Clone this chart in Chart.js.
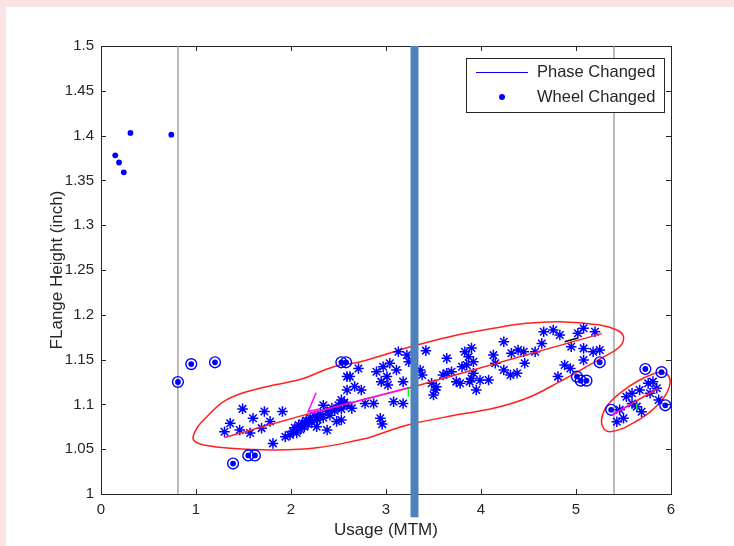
<!DOCTYPE html>
<html>
<head>
<meta charset="utf-8">
<script src="https://cdn.jsdelivr.net/npm/chart.js@4.4.1/dist/chart.umd.min.js"></script>
<style>
  html, body { margin: 0; padding: 0; background: #fbe3e3; }
  #panel { position: absolute; left: 6px; top: 7px; right: 0; bottom: 0; background: #fff; }
  #chart { position: absolute; left: 0; top: 0; }
</style>
</head>
<body>
<div id="panel"></div>
<canvas id="chart" width="734" height="546"></canvas>
<script>
// tick values and labels
const xTicks = [0, 1, 2, 3, 4, 5, 6];
const xTickLabels = ['0', '1', '2', '3', '4', '5', '6'];
const yTicks = [1, 1.05, 1.1, 1.15, 1.2, 1.25, 1.3, 1.35, 1.4, 1.45, 1.5];
const yTickLabels = ['1', '1.05', '1.1', '1.15', '1.2', '1.25', '1.3', '1.35', '1.4', '1.45', '1.5'];
const legendLabels = ['Phase Changed', 'Wheel Changed'];

// wheel changed (dots)
const wheelX = [0.15, 0.19, 0.24, 0.31, 0.74];
const wheelY = [1.378, 1.370, 1.359, 1.403, 1.401];

// circled points (outliers)
const circX = [0.81, 0.95, 1.20, 1.39, 1.55, 1.62, 2.53, 2.58, 5.01, 5.05, 5.11, 5.25, 5.73, 5.90, 5.94, 5.37];
const circY = [1.125, 1.145, 1.147, 1.034, 1.043, 1.043, 1.147, 1.147, 1.131, 1.1265, 1.1265, 1.147, 1.1395, 1.136, 1.099, 1.094];

// star points
const starX = [1.30, 1.36, 1.49, 1.60, 1.72, 1.91, 1.78, 1.46, 1.57, 1.69, 1.81, 1.94, 1.99,
  2.02, 2.04, 2.06, 2.08, 2.10, 2.12, 2.14, 2.16, 2.18, 2.20, 2.22, 2.25, 2.27, 2.28, 2.31, 2.34, 2.34,
  2.38, 2.38, 2.41, 2.43, 2.46, 2.48, 2.50, 2.53, 2.56, 2.59, 2.59, 2.59,
  2.71, 2.62, 2.67, 2.74, 2.53, 2.64, 2.78, 2.87, 2.53, 2.94, 2.96, 3.08, 3.18, 2.90, 2.97, 3.04, 3.11,
  3.01, 2.95, 3.02, 3.18, 3.13, 3.22, 3.24, 3.42, 3.36, 3.38, 3.48, 3.52, 3.50, 3.53, 3.64, 3.64, 3.60,
  3.69, 3.74, 3.78, 3.83, 3.87, 3.85, 3.80, 3.92, 3.92, 3.88, 3.95, 3.90, 3.99, 4.08, 4.13, 4.15, 4.24,
  4.24, 4.31, 4.32, 4.39, 4.38, 4.45, 4.46, 4.57, 4.66, 4.76, 4.83, 4.64, 5.08, 5.02, 5.20, 4.95, 5.08,
  5.08, 5.25, 5.18, 4.88, 4.94, 4.81, 3.90,
  5.53, 5.59, 5.67, 5.76, 5.78, 5.85, 5.87, 5.69, 5.46, 5.50, 5.43, 5.64, 5.59, 5.81];
const starY = [1.0695, 1.079, 1.095, 1.0845, 1.092, 1.092, 1.081, 1.0715, 1.068, 1.0735, 1.0565, 1.064, 1.066,
  1.070, 1.074, 1.068, 1.077, 1.072, 1.079, 1.075, 1.082, 1.078, 1.085, 1.080, 1.087, 1.075, 1.083, 1.089, 1.099, 1.085,
  1.0715, 1.092, 1.088, 1.096, 1.093, 1.081, 1.099, 1.095, 1.102, 1.099, 1.116, 1.131,
  1.140, 1.131, 1.120, 1.116, 1.105, 1.0956, 1.101, 1.101, 1.0826, 1.0845, 1.078, 1.103, 1.101, 1.1365, 1.142, 1.146, 1.1384,
  1.131, 1.1254, 1.1216, 1.1254, 1.1588, 1.155, 1.1477, 1.160, 1.1384, 1.1328, 1.1235, 1.116, 1.1105, 1.1198, 1.1514, 1.1347, 1.1328,
  1.1365, 1.1254, 1.1235, 1.1588, 1.1532, 1.144, 1.142, 1.1477, 1.1347, 1.1254, 1.116, 1.163, 1.127, 1.1272, 1.155, 1.146, 1.170,
  1.1384, 1.1328, 1.157, 1.1607, 1.1347, 1.1588, 1.146, 1.1588, 1.181, 1.183, 1.1775, 1.168, 1.185, 1.1794, 1.181, 1.1644, 1.1625,
  1.1496, 1.1607, 1.1588, 1.144, 1.140, 1.131, 1.129,
  1.1086, 1.101, 1.116, 1.1235, 1.1124, 1.118, 1.105, 1.0918, 1.094, 1.0845, 1.0807, 1.0975, 1.1124, 1.1254];

// fitted lines
const fitX = [1.30, 2.20, 3.30, 5.27];
const fitY = [1.063, 1.090, 1.120, 1.179];
const fitMagX = [2.20, 3.25];
const fitMagY = [1.090, 1.119];
const arrowX = [2.265, 2.18, 2.30];
const arrowY = [1.113, 1.092, 1.095];
const greenX = [3.235, 3.235];
const greenY = [1.1085, 1.118];
const blackX = [4.88, 5.02];
const blackY = [1.170, 1.174];
const smallFitX = [5.375, 5.867];
const smallFitY = [1.088, 1.118];
const smallMagX = [5.375, 5.60];
const smallMagY = [1.088, 1.1015];
const smallGreenX = [5.64, 5.64];
const smallGreenY = [1.0937, 1.101];

// ellipses (outline)
const mainEllX = [2.80, 3.25, 3.78, 4.13, 4.48, 4.83, 5.08, 5.29, 5.46, 5.50, 5.43, 5.25, 4.83, 4.48, 4.13, 3.67, 3.25, 2.73, 2.45, 2.10, 1.67, 1.32, 1.08, 1.02, 0.97, 0.99, 1.08, 1.36, 1.81, 2.27, 2.80];
const mainEllY = [1.0622, 1.0775, 1.089, 1.0956, 1.1068, 1.1254, 1.1403, 1.153, 1.1644, 1.1756, 1.183, 1.1886, 1.1923, 1.1905, 1.185, 1.1756, 1.164, 1.1477, 1.142, 1.128, 1.118, 1.105, 1.0826, 1.0751, 1.064, 1.0584, 1.0547, 1.051, 1.0491, 1.0515, 1.0622];
const smallEllX = [5.50, 5.74, 5.92, 5.99, 5.96, 5.87, 5.67, 5.46, 5.32, 5.27, 5.29, 5.36, 5.50];
const smallEllY = [1.0733, 1.0882, 1.1068, 1.1235, 1.1335, 1.1355, 1.1272, 1.1124, 1.0975, 1.0835, 1.0733, 1.0696, 1.0733];

// vertical markers
const phaseX = [0.81, 5.40];
const barX = 3.30;
const barY = [0.974, 1.5];

function pts(xs, ys) {
  return xs.map((x, i) => ({ x: x, y: ys[i] }));
}

function seg(data, color, width, extra) {
  return Object.assign({
    data: data, showLine: true, borderColor: color, borderWidth: width,
    pointRadius: 0, pointHoverRadius: 0, fill: false, tension: 0
  }, extra || {});
}

const FONT = '"Liberation Sans", Arial, sans-serif';
const TXT = '#262626';

// box + inward ticks like matlab
const matlabAxes = {
  id: 'matlabAxes',
  beforeDatasetsDraw(chart) {
    const { ctx, chartArea: a, scales } = chart;
    ctx.save();
    ctx.strokeStyle = TXT;
    ctx.lineWidth = 1;
    ctx.beginPath();
    for (const t of scales.x.ticks) {
      const px = Math.round(scales.x.getPixelForValue(t.value)) + 0.5;
      ctx.moveTo(px, a.bottom); ctx.lineTo(px, a.bottom - 5);
      ctx.moveTo(px, a.top); ctx.lineTo(px, a.top + 5);
    }
    for (const t of scales.y.ticks) {
      const py = Math.round(scales.y.getPixelForValue(t.value)) + 0.5;
      ctx.moveTo(a.left, py); ctx.lineTo(a.left + 5, py);
      ctx.moveTo(a.right, py); ctx.lineTo(a.right - 5, py);
    }
    ctx.stroke();
    ctx.strokeRect(Math.round(a.left) + 0.5, Math.round(a.top) + 0.5,
      Math.round(a.right - a.left), Math.round(a.bottom - a.top));
    ctx.restore();
  }
};

const legendBox = {
  id: 'legendBox',
  afterDatasetsDraw(chart) {
    const ctx = chart.ctx;
    ctx.save();
    ctx.fillStyle = '#fff';
    ctx.fillRect(466, 58, 198, 54);
    ctx.strokeStyle = TXT;
    ctx.lineWidth = 1;
    ctx.strokeRect(466.5, 58.5, 198, 54);
    ctx.strokeStyle = '#0000ff';
    ctx.beginPath();
    ctx.moveTo(476, 72.5); ctx.lineTo(528, 72.5);
    ctx.stroke();
    ctx.fillStyle = '#0000ff';
    ctx.beginPath();
    ctx.arc(502, 97, 3, 0, Math.PI * 2);
    ctx.fill();
    ctx.fillStyle = TXT;
    ctx.font = '16.5px ' + FONT;
    ctx.textBaseline = 'middle';
    ctx.fillText(legendLabels[0], 537, 72);
    ctx.fillText(legendLabels[1], 537, 97);
    ctx.restore();
  }
};

new Chart(document.getElementById('chart'), {
  type: 'scatter',
  data: {
    datasets: [
      seg([{ x: barX, y: barY[0] }, { x: barX, y: barY[1] }], '#4f81bd', 8, { clip: false, borderCapStyle: 'butt' }),
      seg(pts(greenX, greenY), '#00ff00', 1.5),
      seg(pts(smallGreenX, smallGreenY), '#00ff00', 1.5),
      seg(pts(blackX, blackY), '#000000', 1.5),
      seg(pts(arrowX, arrowY), '#ff00ff', 1.5),
      seg(pts(fitMagX, fitMagY), '#ff00ff', 1.5),
      seg(pts(smallMagX, smallMagY), '#ff00ff', 1.5),
      seg(pts(fitX, fitY), '#ff2020', 1.5),
      seg(pts(smallFitX, smallFitY), '#ff2020', 1.5),
      {
        data: pts(wheelX.concat(circX), wheelY.concat(circY)),
        pointStyle: 'circle', pointRadius: 2.9, borderWidth: 0,
        backgroundColor: '#0000ff', borderColor: '#0000ff'
      },
      {
        data: pts(circX, circY),
        pointStyle: 'circle', pointRadius: 5.4, borderWidth: 1.4,
        backgroundColor: 'rgba(0,0,0,0)', borderColor: '#0000ff'
      },
      {
        data: pts(starX, starY),
        pointStyle: 'star', pointRadius: 5.3, borderWidth: 1.5,
        backgroundColor: '#0000ff', borderColor: '#0000ff'
      },
      seg(pts(mainEllX, mainEllY), '#ff2020', 1.5, { tension: 0.4 }),
      seg(pts(smallEllX, smallEllY), '#ff2020', 1.5, { tension: 0.4 }),
      seg([{ x: phaseX[0], y: 1 }, { x: phaseX[0], y: 1.5 }], '#8c8c8c', 1.2),
      seg([{ x: phaseX[1], y: 1 }, { x: phaseX[1], y: 1.5 }], '#8c8c8c', 1.2)
    ]
  },
  options: {
    responsive: false,
    animation: false,
    events: [],
    layout: { padding: { left: 43, top: 46, right: 63, bottom: 1 } },
    plugins: { legend: { display: false }, tooltip: { enabled: false } },
    scales: {
      x: {
        type: 'linear', min: 0, max: 6,
        afterBuildTicks: s => { s.ticks = xTicks.map(v => ({ value: v })); },
        afterFit: s => { s.height = 51; },
        ticks: {
          callback: (v, i) => xTickLabels[i],
          font: { family: FONT, size: 15 }, color: TXT, padding: 7,
          maxRotation: 0, autoSkip: false
        },
        grid: { display: false, drawTicks: false },
        border: { display: false },
        title: { display: true, text: 'Usage (MTM)', font: { family: FONT, size: 17 }, color: TXT }
      },
      y: {
        type: 'linear', min: 1, max: 1.5,
        afterBuildTicks: s => { s.ticks = yTicks.map(v => ({ value: v })); },
        afterFit: s => { s.width = 58; },
        ticks: {
          callback: (v, i) => yTickLabels[i],
          font: { family: FONT, size: 15 }, color: TXT, padding: 7, autoSkip: false
        },
        grid: { display: false, drawTicks: false },
        border: { display: false },
        title: { display: true, text: 'FLange Height (inch)', font: { family: FONT, size: 17 }, color: TXT }
      }
    }
  },
  plugins: [matlabAxes, legendBox]
});
</script>
</body>
</html>
